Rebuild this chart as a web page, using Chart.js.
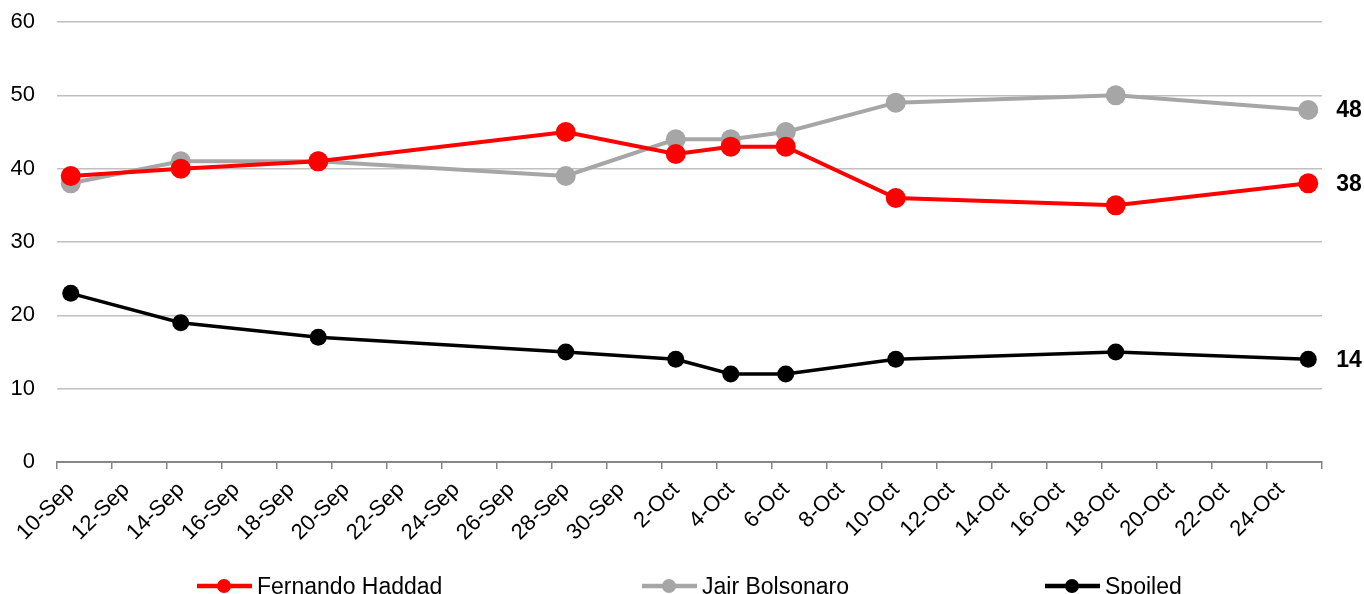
<!DOCTYPE html>
<html>
<head>
<meta charset="utf-8">
<script src="https://cdn.jsdelivr.net/npm/chart.js@4.4.1/dist/chart.umd.min.js"></script>
<style>
  html, body { margin: 0; padding: 0; background: #fff; }
  #wrap { width: 1364px; height: 594px; position: relative; }
</style>
</head>
<body>
<div id="wrap"><canvas id="myChart" width="1364" height="594"></canvas></div>
<script>
// poll dates and results
const pollDates = ['10-Sep', '14-Sep', '19-Sep', '28-Sep', '2-Oct', '4-Oct', '6-Oct', '10-Oct', '18-Oct', '25-Oct'];
const haddad = [39, 40, 41, 45, 42, 43, 43, 36, 35, 38];
const bolsonaro = [38, 41, 41, 39, 44, 44, 45, 49, 50, 48];
const spoiled = [23, 19, 17, 15, 14, 12, 12, 14, 15, 14];

const tickLabels = ['10-Sep', '12-Sep', '14-Sep', '16-Sep', '18-Sep', '20-Sep', '22-Sep', '24-Sep',
    '26-Sep', '28-Sep', '30-Sep', '2-Oct', '4-Oct', '6-Oct', '8-Oct', '10-Oct', '12-Oct', '14-Oct',
    '16-Oct', '18-Oct', '20-Oct', '22-Oct', '24-Oct'];
const seriesNames = ['Fernando Haddad', 'Jair Bolsonaro', 'Spoiled'];
const seriesColors = ['#ff0000', '#a6a6a6', '#000000'];

// day number counted from 10-Sep, points sit in the middle of their day
function dayOf(s) {
    var parts = s.split('-');
    var d = parseInt(parts[0]);
    return (parts[1] === 'Sep' ? d : d + 30) - 10;
}
function toPoints(vals) {
    return vals.map(function (v, i) { return { x: dayOf(pollDates[i]) + 0.5, y: v }; });
}

const FONT = "'Liberation Sans', Arial, sans-serif";

const endLabels = {
    id: 'endLabels',
    afterDatasetsDraw(chart) {
        const c = chart.ctx;
        c.save();
        c.font = 'bold 23px ' + FONT;
        c.fillStyle = '#000';
        c.textBaseline = 'middle';
        c.textAlign = 'left';
        chart.data.datasets.forEach(function (ds, i) {
            const meta = chart.getDatasetMeta(i);
            const last = meta.data[meta.data.length - 1];
            c.fillText(String(ds.data[ds.data.length - 1].y), last.x + 28, last.y + 1);
        });
        c.restore();
    }
};

const bottomLegend = {
    id: 'bottomLegend',
    afterDraw(chart) {
        const c = chart.ctx;
        const starts = [197, 642, 1045];
        const y = 586;
        c.save();
        c.font = '23px ' + FONT;
        c.textBaseline = 'alphabetic';
        c.textAlign = 'left';
        seriesNames.forEach(function (name, i) {
            c.strokeStyle = seriesColors[i];
            c.fillStyle = seriesColors[i];
            c.lineWidth = 4.5;
            c.beginPath();
            c.moveTo(starts[i], y);
            c.lineTo(starts[i] + 55, y);
            c.stroke();
            c.beginPath();
            c.arc(starts[i] + 27, y, 7, 0, Math.PI * 2);
            c.fill();
            c.fillStyle = '#000';
            c.fillText(name, starts[i] + 60, 594);
        });
        c.restore();
    }
};

const ctx = document.getElementById('myChart').getContext('2d');

var graphData = {
    type: 'line',
    data: {
        datasets: [{
            label: seriesNames[0],
            data: toPoints(haddad),
            borderColor: seriesColors[0],
            backgroundColor: seriesColors[0],
            borderWidth: 4,
            pointRadius: 10,
            pointHoverRadius: 10,
            pointBorderWidth: 0
        }, {
            label: seriesNames[1],
            data: toPoints(bolsonaro),
            borderColor: seriesColors[1],
            backgroundColor: seriesColors[1],
            borderWidth: 4,
            pointRadius: 10,
            pointHoverRadius: 10,
            pointBorderWidth: 0
        }, {
            label: seriesNames[2],
            data: toPoints(spoiled),
            borderColor: seriesColors[2],
            backgroundColor: seriesColors[2],
            borderWidth: 3.5,
            pointRadius: 8.5,
            pointHoverRadius: 8.5,
            pointBorderWidth: 0
        }]
    },
    options: {
        responsive: false,
        animation: false,
        layout: { padding: { top: 22, right: 42, left: 0, bottom: 0 } },
        plugins: {
            legend: { display: false },
            tooltip: { enabled: false }
        },
        scales: {
            x: {
                type: 'linear',
                min: 0,
                max: 46,
                afterFit: function (s) {
                    s.height = 132;
                    s.paddingLeft = 0;
                    s.paddingRight = 0;
                },
                afterBuildTicks: function (s) {
                    var t = [];
                    for (var v = 0; v <= 46; v += 2) t.push({ value: v });
                    s.ticks = t;
                },
                grid: {
                    drawOnChartArea: false,
                    drawTicks: true,
                    tickLength: 7,
                    color: '#868686',
                    lineWidth: 1.5
                },
                border: { color: '#868686', width: 2 },
                ticks: {
                    autoSkip: false,
                    minRotation: 45,
                    maxRotation: 45,
                    padding: 8,
                    labelOffset: 14,
                    color: '#000',
                    font: { family: FONT, size: 22 },
                    callback: function (v) { return tickLabels[v / 2] || ''; }
                }
            },
            y: {
                min: 0,
                max: 60,
                afterFit: function (s) {
                    s.width = 57;
                    s.paddingTop = 0;
                    s.paddingBottom = 0;
                },
                ticks: {
                    stepSize: 10,
                    padding: 22,
                    color: '#000',
                    font: { family: FONT, size: 22 }
                },
                grid: {
                    color: '#c0c0c0',
                    lineWidth: 1.5,
                    drawTicks: false
                },
                border: { display: false }
            }
        }
    },
    plugins: [endLabels, bottomLegend]
};
var myChart = new Chart(ctx, graphData);
</script>
</body>
</html>
